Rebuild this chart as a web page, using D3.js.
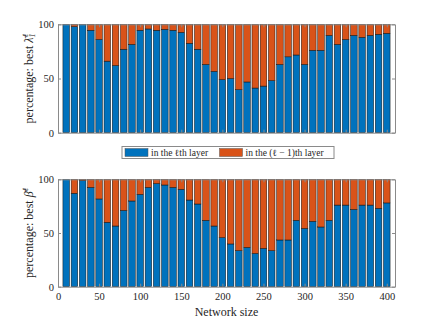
<!DOCTYPE html>
<html><head><meta charset="utf-8">
<script src="https://cdn.jsdelivr.net/npm/d3@7"></script>
<style>body{margin:0;background:#fff}svg{display:block}text{font-family:"Liberation Serif","DejaVu Serif",serif;fill:#262626}</style>
</head><body><svg id="c" width="436" height="327"></svg>
<script>
const sizes = [10,20,30,40,50,60,70,80,90,100,110,120,130,140,150,160,170,180,190,200,210,220,230,240,250,260,270,280,290,300,310,320,330,340,350,360,370,380,390,400];
const lambdaLayer = [100,97.8,100,94.5,86,66,62,77,81.5,94.5,95.7,94.5,95.4,94.5,92.6,82.5,77,63,56.6,49,50,39.7,46.8,41.2,43,48,63,70,71.7,63,76,76,89.8,81.5,86,89.8,88,89.8,90.8,91.7];
const betaLayer = [100,87,98.8,92.5,81.7,60,56.5,71,79.8,86,92.5,96,94.7,92.5,90.7,80.7,77,61.8,56.5,45.7,39.8,33.5,36.6,31,35.7,33.5,43.5,43.5,61.8,54.3,60.9,55.6,61.8,76,76,72,76,76,73,78];
const xTicks = [0,50,100,150,200,250,300,350,400];
const yTicks = [0,50,100];
const legendLabels = ["in the \u2113th layer","in the (\u2113 \u2212 1)th layer"];
const colors = ["#0072BD","#D95319"];

const svg = d3.select("#c");
const x = d3.scaleLinear().domain([0,410]).range([58,395]);
const bw = (x(8)-x(0));

function panel(top, bottom, data, showX, labelFn){
  const y = d3.scaleLinear().domain([0,100]).range([bottom, top]);
  const g = svg.append("g");
  sizes.forEach((s,i)=>{
    const v = data[i];
    g.append("rect").attr("x", x(s)-bw/2).attr("y", y(v)).attr("width", bw).attr("height", y(0)-y(v))
      .attr("fill", colors[0]).attr("stroke","#111").attr("stroke-width",0.5);
    if (100 - v > 0) g.append("rect").attr("x", x(s)-bw/2).attr("y", y(100)).attr("width", bw).attr("height", y(v)-y(100))
      .attr("fill", colors[1]).attr("stroke","#111").attr("stroke-width",0.5);
  });
  const ax = d3.axisBottom(x).tickValues(xTicks).tickSize(-3).tickSizeOuter(0).tickPadding(6);
  const ay = d3.axisLeft(y).tickValues(yTicks).tickSize(-3).tickSizeOuter(0).tickPadding(4);
  const gx = g.append("g").attr("transform",`translate(0,${bottom})`).call(ax);
  const gy = g.append("g").attr("transform",`translate(${x(0)},0)`).call(ay);
  const gx2 = g.append("g").attr("transform",`translate(0,${top})`).call(d3.axisTop(x).tickValues(xTicks).tickSize(-3).tickSizeOuter(0).tickFormat(""));
  const gy2 = g.append("g").attr("transform",`translate(${x(410)},0)`).call(d3.axisRight(y).tickValues(yTicks).tickSize(-3).tickSizeOuter(0).tickFormat(""));
  [gx,gy,gx2,gy2].forEach(a=>{
    a.selectAll("path,line").attr("stroke","#8a8a8a").attr("stroke-width",1);
    a.selectAll("text").attr("font-family","Liberation Serif").attr("font-size",10.5).attr("fill","#262626");
  });
  if(!showX) gx.selectAll("text").remove();
  labelFn(g, (top+bottom)/2);
}

panel(24.3, 132.7, lambdaLayer, false, (g,cy)=>{
  const t = g.append("text").attr("transform",`translate(33,${cy}) rotate(-90)`).attr("text-anchor","middle").attr("font-size",12);
  t.append("tspan").text("percentage:  best ");
  t.append("tspan").attr("font-style","italic").text("\u03bb\u0304");
  t.append("tspan").attr("font-size",8).attr("font-style","italic").attr("dy",2).text("1");
  t.append("tspan").attr("font-size",8).attr("font-style","italic").attr("dx",-4).attr("dy",-7).text("\u2113");
});
panel(179.3, 286.7, betaLayer, true, (g,cy)=>{
  const t = g.append("text").attr("transform",`translate(33,${cy}) rotate(-90)`).attr("text-anchor","middle").attr("font-size",12);
  t.append("tspan").text("percentage:  best ");
  t.append("tspan").attr("font-style","italic").text("\u03b2\u0304");
  t.append("tspan").attr("font-size",8).attr("font-style","italic").attr("dy",-5).text("\u2113");
});

svg.append("text").attr("x", x(205)).attr("y", 316).attr("text-anchor","middle").attr("font-size",12).text("Network size");

const lg = svg.append("g");
lg.append("rect").attr("x",122).attr("y",146.5).attr("width",212).attr("height",12).attr("fill","#fff").attr("stroke","#8a8a8a").attr("stroke-width",1);
const lx = [125, 219.5];
legendLabels.forEach((l,i)=>{
  lg.append("rect").attr("x",lx[i]).attr("y",148.5).attr("width",23).attr("height",8).attr("fill",colors[i]).attr("stroke","#555").attr("stroke-width",0.5);
  lg.append("text").attr("x",lx[i]+26).attr("y",155.8).attr("font-size",9.5).text(l);
});
</script></body></html>
